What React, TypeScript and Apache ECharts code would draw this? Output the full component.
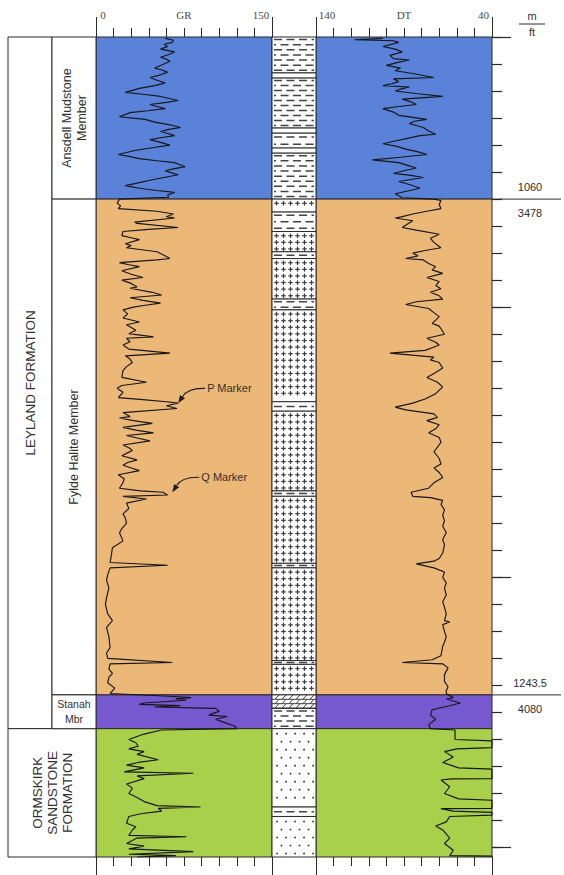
import { useEffect, useRef } from 'react';
import * as echarts from 'echarts';

// ---- depth frame (metres) ----
const DEPTH_MIN = 1000;
const DEPTH_MAX = 1303.5;
const DEPTH_TICKS_M = Array.from({ length: 31 }, (_, i) => 1000 + i * 10);
const DEPTH_MAJOR_TICKS_M = [1000, 1100, 1200, 1300];

// ---- log scales ----
const GR_MIN = 0;
const GR_MAX = 150;
const GR_STEP = 15;
const DT_MIN = 40;
const DT_MAX = 140;
const DT_STEP = 10;

// ---- stratigraphic zones ----
const ZONE_TOPS = [1000, 1060, 1243.5, 1256];
const ZONE_BASES = [1060, 1243.5, 1256, 1303.5];
const ZONE_COLORS = ['#5a82d9', '#ecb877', '#7659cf', '#a9d04a'];

const FORMATION_LABELS = ['LEYLAND FORMATION', 'ORMSKIRK\nSANDSTONE\nFORMATION'];
const FORMATION_TOPS = [1000, 1256];
const FORMATION_BASES = [1256, 1303.5];
const FORMATION_HAS_MEMBERS = [true, false];

const MEMBER_LABELS = ['Ansdell Mudstone\nMember', 'Fylde Halite Member', 'Stanah\nMbr'];
const MEMBER_TOPS = [1000, 1060, 1243.5];
const MEMBER_BASES = [1060, 1243.5, 1256];

const PICK_DEPTHS_M = [1060, 1243.5];
const PICK_DEPTHS_FT = [3478, 4080];

const MARKER_LABELS = ['P Marker', 'Q Marker'];
const MARKER_DEPTHS = [1135.6, 1168.5];
const MARKER_GR = [70, 65];

// ---- lithology column: [top m, base m, rock] ----
const LITHOLOGY: [number, number, string][] = [
  [1000, 1013.3, 'mud'],
  [1013.3, 1015.2, 'halite'],
  [1015.2, 1033.7, 'mud'],
  [1033.7, 1035.6, 'halite'],
  [1035.6, 1041.1, 'mud'],
  [1041.1, 1043, 'halite'],
  [1043, 1060, 'mud'],
  [1060, 1064.8, 'halite'],
  [1064.8, 1072, 'mud'],
  [1072, 1079.5, 'halite'],
  [1079.5, 1082, 'mud'],
  [1082, 1097, 'halite'],
  [1097, 1101, 'mud'],
  [1101, 1135, 'halite'],
  [1135, 1138.5, 'mud'],
  [1138.5, 1168, 'halite'],
  [1168, 1170, 'mud'],
  [1170, 1194.8, 'halite'],
  [1194.8, 1196.5, 'mud'],
  [1196.5, 1230.8, 'halite'],
  [1230.8, 1232.2, 'mud'],
  [1232.2, 1243.5, 'halite'],
  [1243.5, 1248.5, 'dolomite'],
  [1248.5, 1256, 'mud'],
  [1256, 1285, 'sand'],
  [1285, 1288.5, 'mud'],
  [1288.5, 1303.5, 'sand'],
];

// ---- gamma ray log: [depth m, API] ----
const GR_LOG: [number, number][] = [
  [1000.5, 59], [1001.2, 66], [1002, 65], [1002.7, 58], [1003.5, 61], [1004.5, 55], [1005.5, 67], [1006.5, 62],
  [1007.5, 55], [1008.2, 60], [1009, 63], [1010.2, 57], [1011.5, 50], [1012.2, 56], [1013, 61], [1014, 55],
  [1015, 46], [1016, 52], [1017, 59], [1018, 50], [1019, 37], [1020.5, 25], [1021.2, 40], [1022, 55],
  [1023.5, 70], [1024.2, 60], [1025, 46], [1025.7, 52], [1026.5, 59], [1027.3, 44], [1028, 29], [1029.5, 20],
  [1030.5, 42], [1031.5, 50], [1032.5, 63], [1033.5, 72], [1034.2, 62], [1035, 55], [1035.8, 62], [1036.5, 67],
  [1037.3, 55], [1038, 46], [1039, 55], [1040, 63], [1041, 48], [1042, 33], [1043.5, 19], [1044.2, 28],
  [1045, 37], [1045.8, 52], [1046.5, 67], [1047.2, 71], [1048, 76], [1048.8, 66], [1049.5, 59], [1050.2, 64],
  [1051, 70], [1052, 58], [1053, 46], [1054, 36], [1055, 25], [1056, 37], [1056.8, 52], [1057.5, 67],
  [1058.5, 61], [1059.3, 62],
  [1060, 20], [1061.5, 18], [1062.5, 21], [1063.5, 19], [1064.5, 52], [1065.5, 66], [1066.5, 60], [1067, 67],
  [1068.5, 33], [1069, 35], [1070.5, 70], [1071.2, 45], [1072, 23], [1073.5, 22], [1074.3, 30], [1075, 37],
  [1076.5, 25], [1077.2, 30], [1078, 26], [1079.5, 52], [1080.8, 58], [1082, 63], [1082.5, 52], [1083.5, 20],
  [1084.3, 28], [1085, 37], [1086.5, 22], [1087.8, 30], [1089, 40], [1090, 22], [1091.2, 30], [1092.5, 35],
  [1093, 29], [1094.5, 48], [1095.5, 56], [1096.5, 29], [1097.5, 40], [1098.5, 55], [1099.3, 42], [1100, 32],
  [1101, 23], [1102.5, 27], [1104, 23], [1105.5, 37], [1106.5, 26], [1107.5, 30], [1108.5, 34], [1109.8, 28],
  [1111, 49], [1111.5, 26], [1112.8, 29], [1114, 23], [1115.5, 28], [1117, 63], [1118, 25], [1119.2, 29],
  [1120.5, 31], [1122, 26], [1123.5, 23], [1126, 22], [1127.8, 43], [1129, 22], [1130, 18], [1131.5, 23],
  [1133.5, 19], [1134.2, 40], [1135, 60], [1135.5, 70], [1136.5, 60], [1137.5, 69], [1139, 23], [1140.5, 29],
  [1141, 20], [1142, 32], [1143, 48], [1144.5, 23], [1145.5, 34], [1146.5, 49], [1147.5, 26], [1148.5, 36],
  [1149.5, 46], [1151, 23], [1152, 28], [1153, 31], [1155, 22], [1156.5, 35], [1157.5, 27], [1158.5, 23],
  [1159.5, 30], [1160.5, 37], [1162, 19], [1163.5, 24], [1165, 23], [1167, 20], [1168, 38], [1168.5, 57],
  [1169.5, 61], [1170, 23], [1171, 43], [1172.5, 26], [1174.5, 28], [1176.5, 23], [1178, 25], [1180, 26],
  [1182, 22], [1183.5, 20], [1186.5, 23], [1189, 14], [1192, 13], [1194.5, 12], [1195.5, 61], [1196.5, 12],
  [1199, 10], [1201, 9], [1204, 11], [1207.5, 9], [1210, 8], [1213.5, 10], [1216, 14], [1218.5, 9],
  [1222, 11], [1226, 12], [1228, 9], [1230, 10], [1231.5, 65], [1232, 12], [1234, 11], [1235.5, 14],
  [1237, 11], [1239, 10], [1241, 16], [1243, 12],
  [1244, 62], [1244.5, 81], [1245, 68], [1245.5, 77], [1246.5, 41], [1247, 37], [1247.5, 72], [1248, 50],
  [1248.5, 102], [1249.5, 105], [1251, 96], [1251.5, 112], [1252.5, 102], [1253.5, 108], [1255, 118], [1256, 120],
  [1256.5, 56], [1258, 41], [1260, 28], [1261.2, 34], [1262.5, 36], [1263.5, 28], [1264.5, 41], [1265.5, 35],
  [1267.5, 53], [1268.5, 36], [1269.5, 26], [1270.5, 41], [1272, 24], [1272.5, 83], [1273.5, 35], [1274.5, 41],
  [1276.5, 26], [1278, 31], [1280, 28], [1281.5, 35], [1283, 41], [1284.5, 52], [1285, 89], [1285.5, 53],
  [1286.5, 56], [1287.5, 38], [1288.5, 28], [1291, 26], [1292.3, 34], [1293.5, 31], [1295.5, 28], [1296, 77],
  [1296.5, 35], [1298.5, 26], [1299.5, 41], [1300.5, 28], [1301.5, 83], [1302.5, 28], [1303, 68], [1303.5, 35],
];

// ---- sonic log: [depth m, us/ft] ----
const DT_LOG: [number, number][] = [
  [1000.5, 102], [1001, 118], [1001.4, 96], [1002, 93], [1003.5, 102], [1004.5, 95], [1005.5, 91], [1006.8, 98],
  [1008, 96], [1008.5, 87], [1009.5, 94], [1010.5, 100], [1011.5, 92], [1012.5, 95], [1013.5, 85], [1015, 73],
  [1015.5, 96], [1016.5, 93], [1017.3, 97], [1018, 102], [1018.5, 87], [1019.3, 92], [1020, 95], [1021, 82],
  [1022, 68], [1023, 91], [1024, 86], [1025, 83], [1025.8, 94], [1026.5, 102], [1027.8, 96], [1029, 93],
  [1030.5, 77], [1031.2, 84], [1032, 87], [1033.5, 79], [1034.8, 76], [1036, 72], [1036.5, 81], [1037.5, 88],
  [1038.5, 95], [1039.5, 102], [1040.5, 94], [1041.5, 89], [1042.5, 82], [1043.5, 77], [1044.5, 92], [1045.5, 108],
  [1046.5, 93], [1047.5, 88], [1048.5, 83], [1049.5, 90], [1050.5, 96], [1051.2, 86], [1052, 79], [1053.5, 93],
  [1054.8, 86], [1056, 81], [1057, 88], [1058, 95], [1059.5, 91],
  [1060, 73], [1060.5, 69], [1062, 70], [1063.5, 69], [1064.5, 77], [1065.5, 85], [1066.5, 91], [1067, 95],
  [1068, 85], [1069.2, 88], [1070.5, 91], [1071.5, 83], [1073, 70], [1074.5, 75], [1076, 73], [1078, 69],
  [1079, 78], [1080, 85], [1081, 82], [1082, 89], [1082.5, 79], [1083.8, 76], [1085, 72], [1086.2, 74],
  [1087.5, 68], [1089, 77], [1090.5, 70], [1092, 72], [1093.2, 69], [1094.5, 75], [1095.8, 70], [1097, 68],
  [1098, 83], [1099, 89], [1100.5, 76], [1102, 73], [1103.5, 70], [1104.8, 72], [1106, 74], [1107, 70],
  [1108, 69], [1110, 67], [1111.5, 77], [1113, 72], [1114, 70], [1115, 74], [1116, 78], [1117, 98],
  [1118.5, 73], [1119.5, 75], [1120.5, 70], [1122.5, 68], [1124.2, 72], [1126, 77], [1127.8, 71], [1129.5, 68],
  [1132, 72], [1134, 78], [1135.5, 85], [1137, 95], [1138, 89], [1139.5, 73], [1140.8, 71], [1142, 77],
  [1143.5, 70], [1145, 72], [1146.5, 76], [1148.2, 70], [1150, 69], [1151.8, 71], [1153.5, 73], [1156, 70],
  [1158, 69], [1159.5, 73], [1161.2, 70], [1163, 68], [1165, 73], [1167, 76], [1168.5, 86], [1170, 85],
  [1170.5, 75], [1171.5, 68], [1173, 69], [1175, 67], [1177, 68], [1179, 67], [1181, 68], [1183.5, 66],
  [1186, 68], [1188, 67], [1191, 68], [1193, 70], [1194, 73], [1195, 83], [1196.5, 73], [1198, 67],
  [1200, 68], [1202, 66], [1204, 67], [1206.5, 66], [1209, 68], [1211, 67], [1213.5, 66], [1216, 67],
  [1216.5, 64], [1217.5, 68], [1220, 67], [1222, 66], [1224, 67], [1225.5, 68], [1229, 69], [1230.5, 74],
  [1231.5, 91], [1232, 68], [1233.5, 65], [1236, 67], [1238.5, 67], [1240.5, 65], [1242, 66],
  [1243, 66], [1244.5, 62], [1245, 66], [1246.5, 58], [1247.5, 64], [1249, 74], [1251, 75], [1252.5, 72],
  [1254.5, 76], [1256, 75],
  [1256.5, 61], [1260, 61], [1260.5, 40], [1263, 40], [1263.5, 60], [1264.5, 67], [1266.5, 62], [1268.5, 68],
  [1270.5, 59], [1271, 40], [1274.5, 40], [1274.6, 63], [1275, 69], [1277.5, 64], [1280, 67], [1282, 59],
  [1282.5, 40], [1285.5, 40], [1285.6, 69], [1286.5, 62], [1287, 40], [1288, 40], [1288.5, 64], [1290.5, 66],
  [1292, 72], [1293.5, 68], [1296.5, 64], [1298.5, 67], [1301, 62], [1303, 64], [1303.2, 40], [1303.5, 40],
];

const SANS = '"Liberation Sans", Arial, Helvetica, sans-serif';
const SERIF = '"Liberation Serif", "Times New Roman", serif';
const INK = '#2b2b2b';
const CURVE = '#161616';

function seg(x1: number, y1: number, x2: number, y2: number, stroke: string, lineWidth: number, extra: any = {}) {
  return { type: 'line', shape: { x1, y1, x2, y2 }, style: { stroke, lineWidth, ...extra } };
}

function txt(text: string, x: number, y: number, size: number, align: string, extra: any = {}) {
  return {
    type: 'text',
    x,
    y,
    style: {
      text,
      x: 0,
      y: 0,
      align,
      textAlign: align,
      verticalAlign: 'middle',
      textVerticalAlign: 'middle',
      fontSize: size,
      fontFamily: SANS,
      fill: '#303030',
      ...extra,
    },
  };
}

// rock symbols drawn inside one lithology interval
function lithSymbols(kind: string, x0: number, y0: number, x1: number, y1: number) {
  const w = x1 - x0;
  const h = y1 - y0;
  const out: any[] = [
    { type: 'rect', shape: { x: x0, y: y0, width: w, height: h }, style: { fill: '#ffffff', stroke: INK, lineWidth: 1 } },
  ];
  const ink = '#3c3c3c';
  if (kind === 'halite') {
    for (let cy = y0 + 4.2; cy <= y1 - 2.6; cy += 6.6) {
      for (let k = 0; k < 6; k++) {
        const cx = x0 + 4.5 + k * 7;
        out.push(seg(cx - 2.3, cy, cx + 2.3, cy, ink, 1.2));
        out.push(seg(cx, cy - 2.3, cx, cy + 2.3, ink, 1.2));
      }
    }
  } else if (kind === 'mud') {
    const rows = Math.max(1, Math.floor((h - 1.5) / 4.6));
    const gap = h / rows;
    for (let r = 0; r < rows; r++) {
      const cy = y0 + gap * (r + 0.5);
      out.push(
        seg(x0 + 2, cy, x1 - 2, cy, '#444444', 1.5, { lineDash: [8, 4.5], lineDashOffset: r % 2 ? 6 : 0 })
      );
    }
  } else if (kind === 'sand') {
    let r = 0;
    for (let cy = y0 + 5; cy < y1 - 2; cy += 8, r++) {
      for (let cx = x0 + 5 + (r % 2) * 4.5; cx < x1 - 2; cx += 9) {
        out.push({ type: 'circle', shape: { cx, cy, r: 0.9 }, style: { fill: '#3a3a3a' } });
      }
    }
  } else if (kind === 'dolomite') {
    const band = 4.4;
    for (let sy = y0; sy < y1 - 0.5; sy += band) {
      const by = Math.min(sy + band, y1);
      if (by < y1) out.push(seg(x0, by, x1, by, ink, 1));
      for (let sx = x0 + 3; sx < x1 - 3; sx += 7) {
        out.push(seg(sx, by, sx + 4, sy, ink, 1));
      }
    }
  }
  return out;
}

function buildOption(): any {
  const depthAxisHidden = (gridIndex: number) => ({
    gridIndex,
    type: 'value',
    inverse: true,
    min: DEPTH_MIN,
    max: DEPTH_MAX,
    show: false,
  });

  const tickAxis = (
    gridIndex: number,
    position: 'top' | 'bottom',
    min: number,
    max: number,
    length: number,
    opts: any = {}
  ) => ({
    gridIndex,
    type: 'value',
    position,
    min,
    max,
    axisLine: { show: false, onZero: false },
    splitLine: { show: false },
    axisLabel: { show: false },
    axisTick: { show: true, length, lineStyle: { color: INK, width: 1 }, ...(opts.tick || {}) },
    ...(opts.rest || {}),
  });

  const headerLabel = { fontFamily: SERIF, fontSize: 11, color: '#4a4a4a' };

  const xAxis = [
    // 0: GR scale, top
    tickAxis(0, 'top', GR_MIN, GR_MAX, 9, {
      rest: {
        interval: GR_STEP,
        axisLabel: {
          show: true,
          margin: 17,
          formatter: (v: number) => (v === GR_MIN ? '{lo|0}' : v === GR_MAX ? '{hi|150}' : ''),
          rich: { lo: { ...headerLabel, padding: [0, 0, 0, 14] }, hi: { ...headerLabel, padding: [0, 22, 0, 0] } },
        },
        name: 'GR',
        nameLocation: 'middle',
        nameGap: 17,
        nameMoveOverlap: false,
        nameTextStyle: { ...headerLabel, verticalAlign: 'bottom' },
      },
    }),
    // 1: GR end marks, top
    tickAxis(0, 'top', GR_MIN, GR_MAX, 20, { tick: { customValues: [GR_MIN, GR_MAX] } }),
    // 2: GR scale, bottom
    tickAxis(0, 'bottom', GR_MIN, GR_MAX, 9, { rest: { interval: GR_STEP } }),
    // 3: GR end marks, bottom
    tickAxis(0, 'bottom', GR_MIN, GR_MAX, 18, { tick: { customValues: [GR_MIN, GR_MAX] } }),
    // 4: lithology column edges, top
    tickAxis(1, 'top', 0, 1, 20, { tick: { customValues: [0, 1] } }),
    // 5: lithology column edges, bottom
    tickAxis(1, 'bottom', 0, 1, 18, { tick: { customValues: [0, 1] } }),
    // 6: DT scale, top (reversed)
    tickAxis(2, 'top', DT_MIN, DT_MAX, 9, {
      rest: {
        inverse: true,
        interval: DT_STEP,
        axisLabel: {
          show: true,
          margin: 17,
          formatter: (v: number) => (v === DT_MAX ? '{lo|140}' : v === DT_MIN ? '{hi|40}' : ''),
          rich: { lo: { ...headerLabel, padding: [0, 0, 0, 22] }, hi: { ...headerLabel, padding: [0, 17, 0, 0] } },
        },
        name: 'DT',
        nameLocation: 'middle',
        nameGap: 17,
        nameMoveOverlap: false,
        nameTextStyle: { ...headerLabel, verticalAlign: 'bottom' },
      },
    }),
    // 7: DT end marks, top
    tickAxis(2, 'top', DT_MIN, DT_MAX, 20, { tick: { customValues: [DT_MIN, DT_MAX] }, rest: { inverse: true } }),
    // 8: DT scale, bottom
    tickAxis(2, 'bottom', DT_MIN, DT_MAX, 9, { rest: { inverse: true, interval: DT_STEP } }),
    // 9: DT end marks, bottom
    tickAxis(2, 'bottom', DT_MIN, DT_MAX, 18, { tick: { customValues: [DT_MIN, DT_MAX] }, rest: { inverse: true } }),
    // 10: stratigraphy columns
    { gridIndex: 3, type: 'value', min: 0, max: 1, show: false },
    // 11: depth scale
    { gridIndex: 4, type: 'value', min: 0, max: 1, show: false },
  ];

  const yAxis = [
    depthAxisHidden(0),
    depthAxisHidden(1),
    depthAxisHidden(2),
    depthAxisHidden(3),
    {
      gridIndex: 4,
      type: 'value',
      inverse: true,
      min: DEPTH_MIN,
      max: DEPTH_MAX,
      position: 'left',
      axisLine: { show: false, onZero: false },
      axisLabel: { show: false },
      splitLine: { show: false },
      axisTick: { show: true, inside: true, length: 10, customValues: DEPTH_TICKS_M, lineStyle: { color: INK, width: 1.2 } },
    },
    {
      gridIndex: 4,
      type: 'value',
      inverse: true,
      min: DEPTH_MIN,
      max: DEPTH_MAX,
      position: 'left',
      axisLine: { show: false, onZero: false },
      axisLabel: { show: false },
      splitLine: { show: false },
      axisTick: { show: true, inside: true, length: 19, customValues: DEPTH_MAJOR_TICKS_M, lineStyle: { color: INK, width: 1.2 } },
    },
  ];

  const zoneData = ZONE_TOPS.map((t, i) => [t, ZONE_BASES[i], i]);
  const zoneRender = (params: any, api: any) => {
    const cs = params.coordSys;
    const y0 = api.coord([0, api.value(0)])[1];
    const y1 = api.coord([0, api.value(1)])[1];
    return {
      type: 'rect',
      shape: { x: cs.x, y: y0, width: cs.width, height: y1 - y0 },
      style: { fill: ZONE_COLORS[api.value(2)], stroke: INK, lineWidth: 1 },
    };
  };

  const stratData = [
    ...FORMATION_LABELS.map((_, i) => [FORMATION_TOPS[i], FORMATION_BASES[i], 0, i]),
    ...MEMBER_LABELS.map((_, i) => [MEMBER_TOPS[i], MEMBER_BASES[i], 1, i]),
  ];

  const gridBase = { top: 37, height: 820, containLabel: false, outerBoundsMode: 'none' };

  return {
    animation: false,
    backgroundColor: '#ffffff',
    grid: [
      { ...gridBase, left: 96, width: 176 },
      { ...gridBase, left: 272, width: 44 },
      { ...gridBase, left: 316, width: 176 },
      { ...gridBase, left: 8, width: 88 },
      { ...gridBase, left: 492, width: 72 },
    ],
    xAxis,
    yAxis,
    graphic: [
      txt('m', 532, 16, 11, 'center'),
      seg(519, 24, 545, 24, INK, 1),
      txt('ft', 532, 32, 11, 'center'),
    ],
    series: [
      {
        type: 'custom',
        name: 'GR zones',
        xAxisIndex: 0,
        yAxisIndex: 0,
        z: 1,
        data: zoneData,
        renderItem: zoneRender,
      },
      {
        type: 'custom',
        name: 'DT zones',
        xAxisIndex: 6,
        yAxisIndex: 2,
        z: 1,
        data: zoneData,
        renderItem: zoneRender,
      },
      {
        type: 'line',
        name: 'GR',
        xAxisIndex: 0,
        yAxisIndex: 0,
        z: 4,
        symbol: 'none',
        showSymbol: false,
        data: GR_LOG.map(([d, v]) => [v, d]),
        lineStyle: { color: CURVE, width: 1.15 },
      },
      {
        type: 'line',
        name: 'DT',
        xAxisIndex: 6,
        yAxisIndex: 2,
        z: 4,
        symbol: 'none',
        showSymbol: false,
        data: DT_LOG.map(([d, v]) => [v, d]),
        lineStyle: { color: CURVE, width: 1.15 },
      },
      {
        type: 'custom',
        name: 'Markers',
        xAxisIndex: 0,
        yAxisIndex: 0,
        z: 5,
        data: MARKER_LABELS.map((_, i) => [MARKER_GR[i], MARKER_DEPTHS[i], i]),
        renderItem: (params: any, api: any) => {
          const p = api.coord([api.value(0), api.value(1)]);
          const tx = p[0];
          const ty = p[1];
          const dx = -0.55;
          const dy = 0.835;
          const bx = tx - 8 * dx;
          const by = ty - 8 * dy;
          return {
            type: 'group',
            children: [
              {
                type: 'bezierCurve',
                shape: { x1: tx + 27, y1: ty - 15, cpx1: tx + 13, cpy1: ty - 15.5, cpx2: bx + 3, cpy2: by - 5, x2: bx, y2: by },
                style: { stroke: '#1e1e1e', lineWidth: 1.1, fill: 'none' },
              },
              {
                type: 'polygon',
                shape: { points: [[tx, ty], [bx + 3 * 0.835, by + 3 * 0.55], [bx - 3 * 0.835, by - 3 * 0.55]] },
                style: { fill: '#1e1e1e' },
              },
              txt(MARKER_LABELS[api.value(2)], tx + 29, ty - 15, 11, 'left'),
            ],
          };
        },
      },
      {
        type: 'custom',
        name: 'Lithology',
        xAxisIndex: 4,
        yAxisIndex: 1,
        z: 2,
        data: LITHOLOGY.map((r, i) => [r[0], r[1], i]),
        renderItem: (params: any, api: any) => {
          const cs = params.coordSys;
          const y0 = api.coord([0, api.value(0)])[1];
          const y1 = api.coord([0, api.value(1)])[1];
          const kind = LITHOLOGY[api.value(2)][2];
          return { type: 'group', children: lithSymbols(kind, cs.x, y0, cs.x + cs.width, y1) };
        },
      },
      {
        type: 'custom',
        name: 'Stratigraphy',
        xAxisIndex: 10,
        yAxisIndex: 3,
        z: 2,
        data: stratData,
        renderItem: (params: any, api: any) => {
          const cs = params.coordSys;
          const y0 = api.coord([0, api.value(0)])[1];
          const y1 = api.coord([0, api.value(1)])[1];
          const kind = api.value(2);
          const idx = api.value(3);
          const half = cs.width / 2;
          let x0 = cs.x;
          let w = half;
          let label = '';
          if (kind === 0) {
            w = FORMATION_HAS_MEMBERS[idx] ? half : cs.width;
            label = FORMATION_LABELS[idx];
          } else {
            x0 = cs.x + half;
            label = MEMBER_LABELS[idx];
          }
          const h = y1 - y0;
          const upright = h < 60;
          const size = upright ? 10.5 : kind === 0 ? 13.5 : 12.5;
          return {
            type: 'group',
            children: [
              { type: 'rect', shape: { x: x0, y: y0, width: w, height: h }, style: { fill: '#ffffff', stroke: INK, lineWidth: 1 } },
              {
                ...txt(label, x0 + w / 2, y0 + h / 2, size, 'center', { lineHeight: 15 }),
                rotation: upright ? 0 : Math.PI / 2,
              },
            ],
          };
        },
      },
      {
        type: 'custom',
        name: 'Depth picks',
        xAxisIndex: 11,
        yAxisIndex: 4,
        z: 2,
        data: PICK_DEPTHS_M.map((m, i) => [0, m, i]),
        renderItem: (params: any, api: any) => {
          const cs = params.coordSys;
          const y = api.coord([0, api.value(1)])[1];
          const i = api.value(2);
          return {
            type: 'group',
            children: [
              seg(cs.x, y, cs.x + 69, y, INK, 1),
              txt(String(PICK_DEPTHS_M[i]), cs.x + 38, y - 12, 11, 'center'),
              txt(String(PICK_DEPTHS_FT[i]), cs.x + 38, y + 14, 11, 'center'),
            ],
          };
        },
      },
    ],
  };
}

export default function App() {
  const ref = useRef<HTMLDivElement>(null);

  useEffect(() => {
    document.body.style.margin = '0';
    if (!ref.current) return;
    const chart = echarts.init(ref.current, undefined, { renderer: 'svg' });
    chart.setOption(buildOption());
    return () => {
      chart.dispose();
    };
  }, []);

  return <div ref={ref} style={{ width: 564, height: 875 }} />;
}
